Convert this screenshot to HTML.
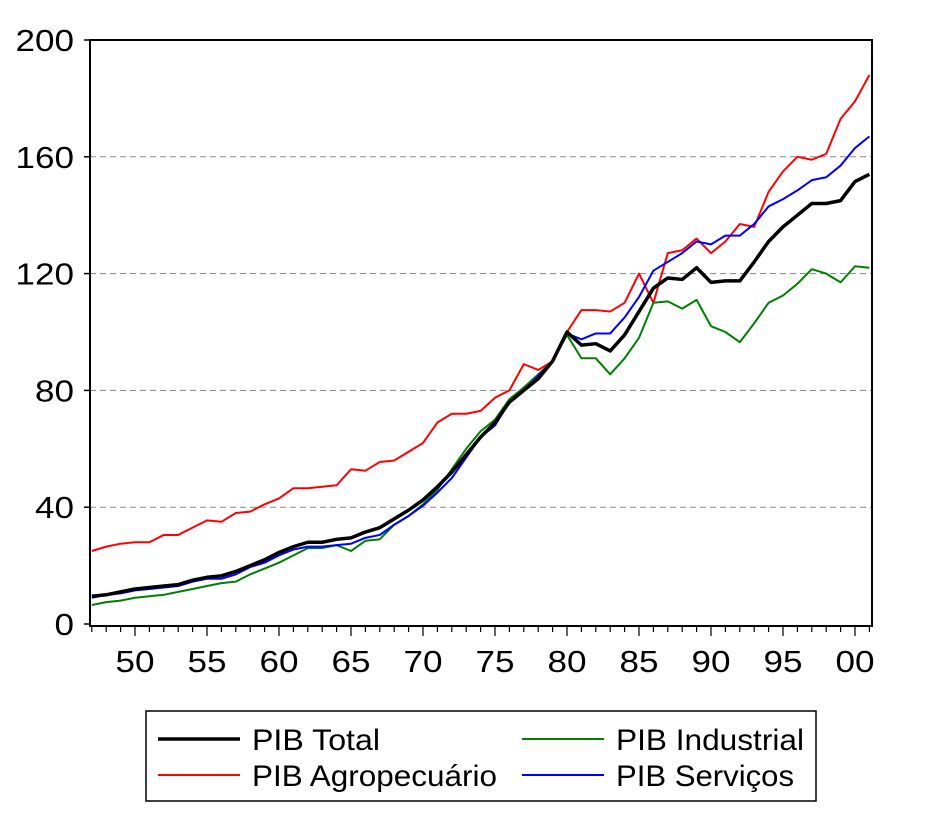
<!DOCTYPE html>
<html><head><meta charset="utf-8"><style>
body{margin:0;background:#fff;}
svg text{font-family:"Liberation Sans",Arial,sans-serif;}
</style></head><body>
<svg width="929" height="826" viewBox="0 0 929 826">
<g id="grid"></g>
<g id="series"></g>
<rect x="90" y="40" width="782" height="586" fill="none" stroke="#000" stroke-width="2"/>
<g id="axes"></g>
<g>
<rect x="146" y="711" width="670" height="90" fill="#fff" stroke="#000" stroke-width="1.5"/>
<g><line x1="158" y1="739" x2="240" y2="739" stroke="#000" stroke-width="3.5"/><text x="252" y="750" font-size="30" textLength="128" lengthAdjust="spacingAndGlyphs">PIB Total</text></g>
<g><line x1="158" y1="775" x2="240" y2="775" stroke="#f00" stroke-width="2"/><text x="252" y="786" font-size="30" textLength="245" lengthAdjust="spacingAndGlyphs">PIB Agropecuário</text></g>
<g><line x1="522" y1="739" x2="604" y2="739" stroke="#008000" stroke-width="2"/><text x="616" y="750" font-size="30" textLength="188" lengthAdjust="spacingAndGlyphs">PIB Industrial</text></g>
<g><line x1="522" y1="775" x2="604" y2="775" stroke="#00f" stroke-width="2"/><text x="616" y="786" font-size="30" textLength="178" lengthAdjust="spacingAndGlyphs">PIB Serviços</text></g>
</g>
</svg>
<script>
const years=[];for(let y=1947;y<=2001;y++)years.push(y);
const total=[9.5,10,11,12,12.5,13,13.5,15,16,16.5,18,20,22,24.5,26.5,28,28,29,29.5,31.5,33,36,39,42.5,47,52,58,64,69,76,80,84,90,100,95.5,96,93.5,99,107,115,118.5,118,122,117,117.5,117.5,124,131,136,140,144,144,145,151.5,154];
const agro=[25,26.5,27.5,28,28,30.5,30.5,33,35.5,35,38,38.5,41,43,46.5,46.5,47,47.5,53,52.5,55.5,56,59,62,69,72,72,73,77.5,80,89,87,90,100,107.5,107.5,107,110,120,110,127,128,132,127,131,137,136,148,155,160,159,161,173,179,188];
const industrial=[6.5,7.5,8,9,9.5,10,11,12,13,14,14.5,17,19,21,23.5,26,26,27,25,28.5,29,34,37,41,46,53,60,66,70,77,81,85.5,90,99,91,91,85.5,91,98,110,110.5,108,111,102,100,96.5,103,110,112.5,116.5,121.5,120,117,122.5,122];
const servicos=[9,10,10.5,11.5,12,12.5,13,14.5,15.5,15.5,17,19.5,21,23.5,25.5,26.5,26.5,27,27.5,29.5,30.5,34,37,40.5,45,50,57,64,68,76,80,85,90,99.5,97.5,99.5,99.5,105,112,121,124,127,131,130,133,133,137,143,145.5,148.5,152,153,157,163,167];
const yTicks=[0,40,80,120,160,200];
const xTickYears=[1950,1955,1960,1965,1970,1975,1980,1985,1990,1995,2000];
const xLabels=["50","55","60","65","70","75","80","85","90","95","00"];
const NS="http://www.w3.org/2000/svg";
const X=y=>135+(y-1950)*14.4;
const Y=v=>624-v*2.92;
function mk(t,a,p){const e=document.createElementNS(NS,t);for(const k in a)e.setAttribute(k,a[k]);p.appendChild(e);return e;}
const grid=document.getElementById('grid'),axes=document.getElementById('axes'),ser=document.getElementById('series');
yTicks.forEach(v=>{
 if(v>0&&v<200){const l=mk('line',{x1:90,x2:872,y1:Y(v),y2:Y(v),stroke:'#888','stroke-dasharray':'6,4','stroke-width':1},grid);
 
 }
 const t=mk('line',{x1:84,x2:90,y1:Y(v),y2:Y(v),stroke:'#000','stroke-width':1.5},axes);
 
 
 const s=String(v);
 const tx=mk('text',{x:74,y:Y(v)+11,'text-anchor':'end','font-size':31,textLength:s.length*19.5,lengthAdjust:'spacingAndGlyphs'},axes);tx.textContent=s;
 
 
});
years.forEach(y=>{
 const maj=xTickYears.includes(y);
 const t=mk('line',{x1:X(y),x2:X(y),y1:626,y2:maj?636:632,stroke:'#000','stroke-width':1.2},axes);
 
 
});
xTickYears.forEach((y,i)=>{
 const tx=mk('text',{x:X(y),y:672,'text-anchor':'middle','font-size':31,textLength:39,lengthAdjust:'spacingAndGlyphs'},axes);tx.textContent=xLabels[i];
 
 
});
[[agro,'#f00',2,'line-agro'],[industrial,'#008000',2,'line-industrial'],[servicos,'#00f',2,'line-servicos'],[total,'#000',3.5,'line-total']].forEach(([d,c,w,n])=>{
 const p=mk('polyline',{points:d.map((v,i)=>X(years[i])+','+Y(v)).join(' '),fill:'none',stroke:c,'stroke-width':w,'stroke-linejoin':'round'},ser);
 
 
});
</script>
</body></html>
